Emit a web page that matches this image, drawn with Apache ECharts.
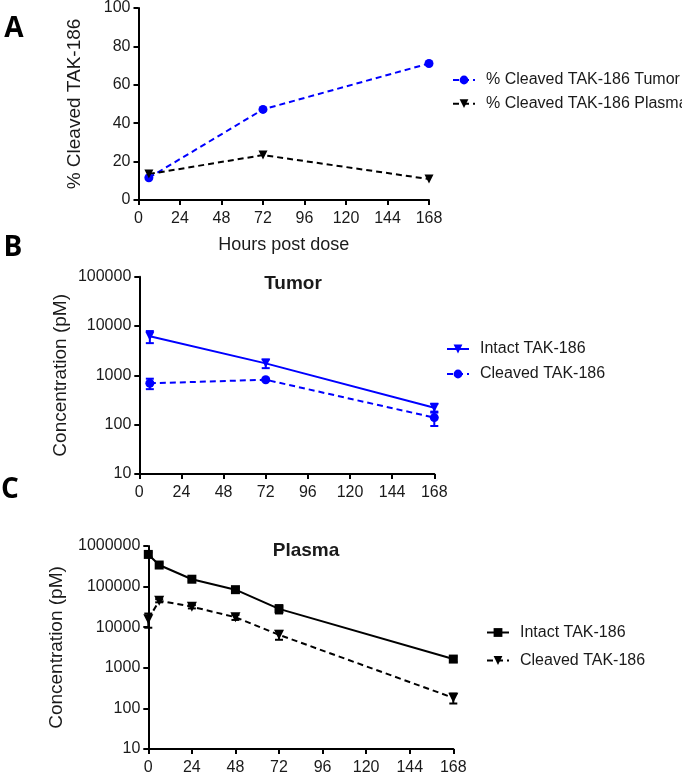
<!DOCTYPE html>
<html>
<head>
<meta charset="utf-8">
<script src="https://cdn.jsdelivr.net/npm/echarts@6/dist/echarts.min.js"></script>
<style>
html,body{margin:0;padding:0;background:#fff;}
#chart{width:682px;height:776px;}
</style>
</head>
<body>
<div id="chart"></div>
<script>
// ---- Data ----
var hourTicks = [0, 24, 48, 72, 96, 120, 144, 168];

// Panel A: % cleaved
var hoursA = [6, 72, 168];
var pctCleavedTumor = [11.6, 47.2, 71.1];
var pctCleavedPlasma = [13.5, 23.4, 10.9];

// Panel B: Tumor concentrations (pM)
var hoursB = [6, 72, 168];
var tumorIntact = [6200, 1750, 221];
var tumorIntactSD = [1700, 350, 45];
var tumorCleaved = [690, 815, 139];
var tumorCleavedSD = [165, 40, 45];

// Panel C: Plasma concentrations (pM)
var hoursC = [0, 6, 24, 48, 72, 168];
var plasmaIntact = [620000, 340000, 152000, 84000, 28300, 1640];
var plasmaIntactSD = [80000, 40000, 15000, 10000, 6500, 250];
var plasmaCleaved = [15700, 45000, 32000, 17600, 6500, 182];
var plasmaCleavedSD = [6000, 4000, 3000, 2500, 1600, 50];

var legendLabels = {
  aTumor: '% Cleaved TAK-186 Tumor',
  aPlasma: '% Cleaved TAK-186 Plasma',
  bIntact: 'Intact TAK-186',
  bCleaved: 'Cleaved TAK-186',
  cIntact: 'Intact TAK-186',
  cCleaved: 'Cleaved TAK-186'
};

// ---- Styling helpers ----
var FONT = "'Liberation Sans', Arial, sans-serif";
var BLUE = '#0000ff';
var BLACK = '#000000';
var TXT = '#1a1a1a';

function pairs(xs, ys) { return xs.map(function (x, i) { return [x, ys[i]]; }); }

function xAxisCfg(gridIndex, name) {
  var cfg = {
    type: 'value', gridIndex: gridIndex, min: 0, max: 168, interval: 24,
    axisLine: { show: true, onZero: false, lineStyle: { color: BLACK, width: 2 } },
    axisTick: { show: true, length: 5, lineStyle: { color: BLACK, width: 2 } },
    axisLabel: { fontFamily: FONT, fontSize: 16, color: TXT, margin: 11 },
    splitLine: { show: false }
  };
  if (name) {
    cfg.name = name; cfg.nameLocation = 'middle'; cfg.nameGap = 36;
    cfg.nameTextStyle = { fontFamily: FONT, fontSize: 18, color: TXT };
  }
  return cfg;
}

function yAxisCfg(gridIndex, opts) {
  var cfg = {
    gridIndex: gridIndex,
    axisLine: { show: true, onZero: false, lineStyle: { color: BLACK, width: 2 } },
    axisTick: { show: true, length: 5, lineStyle: { color: BLACK, width: 2 } },
    axisLabel: { fontFamily: FONT, fontSize: 16, color: TXT, margin: 8 },
    splitLine: { show: false },
    minorTick: { show: false },
    nameLocation: 'middle',
    nameTextStyle: { fontFamily: FONT, fontSize: 19, color: TXT }
  };
  for (var k in opts) cfg[k] = opts[k];
  return cfg;
}

function errSeries(xi, yi, xs, ys, sds, color) {
  return {
    type: 'custom', xAxisIndex: xi, yAxisIndex: yi, silent: true, z: 1,
    data: xs.map(function (x, i) { return [x, ys[i], sds[i]]; }),
    encode: { x: 0, y: 1 },
    renderItem: function (params, api) {
      var x = api.value(0), y = api.value(1), e = api.value(2);
      var lo = Math.max(y - e, y * 0.05), hi = y + e;
      var p1 = api.coord([x, hi]), p2 = api.coord([x, lo]);
      var w = 4;
      var st = { stroke: color, lineWidth: 2 };
      return {
        type: 'group', children: [
          { type: 'line', shape: { x1: p1[0], y1: p1[1], x2: p2[0], y2: p2[1] }, style: st },
          { type: 'line', shape: { x1: p1[0] - w, y1: p1[1], x2: p1[0] + w, y2: p1[1] }, style: st },
          { type: 'line', shape: { x1: p2[0] - w, y1: p2[1], x2: p2[0] + w, y2: p2[1] }, style: st }
        ]
      };
    }
  };
}

function lineSeries(name, xi, yi, data, color, dashed, symbol, size, rotate) {
  return {
    name: name, type: 'line', xAxisIndex: xi, yAxisIndex: yi, data: data,
    symbol: symbol, symbolSize: size, symbolRotate: rotate || 0, showSymbol: true,
    itemStyle: { color: color },
    lineStyle: { color: color, width: 2, type: dashed ? [6, 4] : 'solid' },
    z: 3
  };
}

var logFmt = function (v) { return String(Math.round(v)); };

var legendCommon = {
  orient: 'vertical', itemWidth: 22, itemHeight: 11,
  formatter: function (n) { return legendLabels[n]; },
  textStyle: { fontFamily: FONT, fontSize: 16, color: TXT, padding: [0, 0, 0, 6] },
  selectedMode: false
};
function legendAt(left, top, gap, data) {
  var l = {}; for (var k in legendCommon) l[k] = legendCommon[k];
  l.left = left; l.top = top; l.itemGap = gap; l.data = data;
  return l;
}

var LETTER_FONT = "bold 28px 'Liberation Sans Narrow', 'Open Sans', sans-serif";

var option = {
  animation: false,
  backgroundColor: '#ffffff',
  grid: [
    { left: 138.5, top: 7.3, width: 290.5, height: 192.7 },
    { left: 139.3, top: 276.7, width: 295, height: 197.3 },
    { left: 148.3, top: 546, width: 305, height: 203.3 }
  ],
  xAxis: [
    xAxisCfg(0, 'Hours post dose'),
    xAxisCfg(1),
    xAxisCfg(2)
  ],
  yAxis: [
    yAxisCfg(0, { type: 'value', min: 0, max: 100, interval: 20, name: '% Cleaved TAK-186', nameGap: 54 }),
    yAxisCfg(1, { type: 'log', logBase: 10, min: 10, max: 100000, splitNumber: 4, name: 'Concentration (pM)', nameGap: 69,
      axisLabel: { fontFamily: FONT, fontSize: 16, color: TXT, margin: 8, formatter: logFmt } }),
    yAxisCfg(2, { type: 'log', logBase: 10, min: 10, max: 1000000, splitNumber: 5, name: 'Concentration (pM)', nameGap: 82,
      axisLabel: { fontFamily: FONT, fontSize: 16, color: TXT, margin: 8, formatter: logFmt } })
  ],
  title: [
    { text: 'Tumor', left: 288, top: 269, textAlign: 'center',
      textStyle: { fontFamily: FONT, fontSize: 19, fontWeight: 'bold', color: TXT } },
    { text: 'Plasma', left: 301, top: 536, textAlign: 'center',
      textStyle: { fontFamily: FONT, fontSize: 19, fontWeight: 'bold', color: TXT } }
  ],
  legend: [
    legendAt(447, 67, 7.7, ['aTumor', 'aPlasma']),
    legendAt(441, 336, 9, ['bIntact', 'bCleaved']),
    legendAt(481, 619.5, 12, ['cIntact', 'cCleaved'])
  ],
  graphic: [
    { type: 'text', x: 14, y: 29, style: { text: 'A', font: LETTER_FONT, fill: '#000', textAlign: 'center', textVerticalAlign: 'middle' } },
    { type: 'text', x: 13, y: 248, style: { text: 'B', font: LETTER_FONT, fill: '#000', textAlign: 'center', textVerticalAlign: 'middle' } },
    { type: 'text', x: 10, y: 490, style: { text: 'C', font: LETTER_FONT, fill: '#000', textAlign: 'center', textVerticalAlign: 'middle' } }
  ],
  series: [
    lineSeries('aTumor', 0, 0, pairs(hoursA, pctCleavedTumor), BLUE, true, 'circle', 9),
    lineSeries('aPlasma', 0, 0, pairs(hoursA, pctCleavedPlasma), BLACK, true, 'triangle', 9, 180),

    errSeries(1, 1, hoursB, tumorIntact, tumorIntactSD, BLUE),
    errSeries(1, 1, hoursB, tumorCleaved, tumorCleavedSD, BLUE),
    lineSeries('bIntact', 1, 1, pairs(hoursB, tumorIntact), BLUE, false, 'triangle', 9, 180),
    lineSeries('bCleaved', 1, 1, pairs(hoursB, tumorCleaved), BLUE, true, 'circle', 9),

    errSeries(2, 2, hoursC, plasmaIntact, plasmaIntactSD, BLACK),
    errSeries(2, 2, hoursC, plasmaCleaved, plasmaCleavedSD, BLACK),
    lineSeries('cIntact', 2, 2, pairs(hoursC, plasmaIntact), BLACK, false, 'rect', 9),
    lineSeries('cCleaved', 2, 2, pairs(hoursC, plasmaCleaved), BLACK, true, 'triangle', 10, 180)
  ]
};

var chart = echarts.init(document.getElementById('chart'), null, { renderer: 'canvas' });
chart.setOption(option);
</script>
</body>
</html>
